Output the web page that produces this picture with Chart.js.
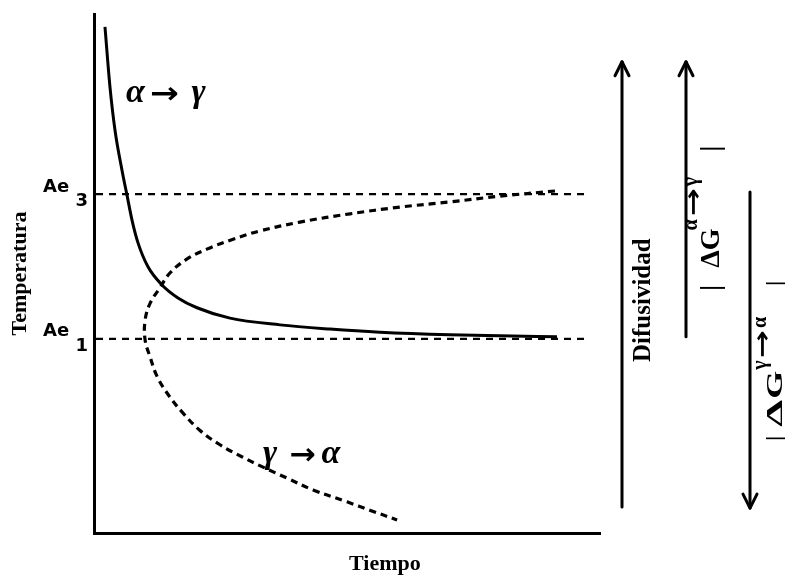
<!DOCTYPE html>
<html><head><meta charset="utf-8">
<script src="https://cdn.jsdelivr.net/npm/chart.js@4/dist/chart.umd.min.js"></script>
<style>html,body{margin:0;padding:0;background:#fff}canvas{display:block}</style>
</head><body>
<canvas id="c" width="785" height="577"></canvas>
<script>
// ---- data (arbitrary units: tiempo 0..100, temperatura 0..100) ----
const solidTiempo = [2.17, 3.16, 4.15, 5.53, 6.52, 7.51, 8.70, 10.67, 13.44, 16.60, 20.36, 26.88, 36.76, 46.64, 56.52, 70.36, 80.24, 91.50];
const solidTemp   = [97.5, 85.9, 77.6, 69.9, 65.1, 60.3, 55.9, 51.3, 47.8, 45.3, 43.4, 41.4, 40.1, 39.3, 38.7, 38.2, 38.0, 37.8];
const dashTiempo  = [91.1, 80.2, 70.4, 60.5, 50.6, 40.7, 32.8, 27.5, 22.3, 18.4, 15.0, 13.0, 11.1, 10.1, 10.1, 11.1, 12.5, 15.0, 17.6, 20.9, 24.9, 29.4, 33.4, 38.1, 43.3, 50.0, 54.5, 59.9];
const dashTemp    = [65.9, 64.9, 63.8, 62.8, 61.5, 59.9, 58.2, 56.6, 54.7, 52.8, 50.1, 47.2, 44.3, 41.0, 37.2, 33.9, 30.1, 26.2, 23.1, 19.8, 17.0, 14.6, 12.7, 10.6, 8.3, 6.0, 4.4, 2.5];
const eqTemps     = [37.4, 65.3];
const eqLabels    = [['Ae   ', '1'], ['Ae   ', '3']];
const eqLineTiempo = [0.4, 97.4];
const curveLabels = [['\u03b1', '\u2192', '\u03b3'], ['\u03b3', '\u2192', '\u03b1']];
const curveLabelTiempo = [6.3, 33.4];
const curveLabelTemp   = [83.0, 13.5];
const xTitle = 'Tiempo';
const yTitle = 'Temperatura';

const toPts = (xs, ys) => xs.map((x, i) => ({x, y: ys[i]}));

const annot = {
  id: 'annot',
  afterDraw(chart) {
    const {ctx, chartArea: a, scales: {x, y}} = chart;
    ctx.save();
    ctx.fillStyle = '#000';
    ctx.strokeStyle = '#000';

    // draw a run of text parts along a baseline (optionally rotated)
    function run(bx, by, angle, parts) {
      ctx.save();
      ctx.translate(bx, by);
      ctx.rotate(angle);
      ctx.textAlign = 'left';
      ctx.textBaseline = 'alphabetic';
      let cx = 0;
      for (const p of parts) {
        ctx.font = p.f;
        const sx = p.sx || 1;
        ctx.save();
        ctx.translate(cx, -(p.r || 0));
        ctx.scale(sx, 1);
        ctx.fillText(p.t, 0, 0);
        ctx.restore();
        cx += ctx.measureText(p.t).width * sx + (p.g || 0);
      }
      ctx.restore();
    }

    // curve labels
    const gk = 'italic bold 34px "Liberation Serif"', ar = 'bold 30px "DejaVu Sans"';
    const cl0 = curveLabels[0], cl1 = curveLabels[1];
    run(x.getPixelForValue(curveLabelTiempo[0]), y.getPixelForValue(curveLabelTemp[0]), 0, [
      {t: cl0[0], f: gk, g: 5}, {t: cl0[1], f: ar, sx: 1.15, r: -1, g: 13}, {t: cl0[2], f: gk}]);
    run(x.getPixelForValue(curveLabelTiempo[1]), y.getPixelForValue(curveLabelTemp[1]), 0, [
      {t: cl1[0], f: gk, g: 12}, {t: cl1[1], f: ar, sx: 1.05, r: -1, g: 6}, {t: cl1[2], f: gk}]);

    // x title
    ctx.font = 'bold 22px "Liberation Serif"';
    ctx.textAlign = 'center';
    ctx.textBaseline = 'middle';
    ctx.fillText(xTitle, a.left + (a.right - a.left) * 0.575, 564);

    // arrows
    function arrow(px, vTop, vBot, headUp) {
      const y1 = y.getPixelForValue(vTop), y2 = y.getPixelForValue(vBot);
      ctx.lineWidth = 3;
      ctx.lineCap = 'round';
      ctx.lineJoin = 'round';
      ctx.beginPath(); ctx.moveTo(px, y1); ctx.lineTo(px, y2); ctx.stroke();
      const tip = headUp ? y1 : y2, d = headUp ? 1 : -1;
      ctx.beginPath();
      ctx.moveTo(px - 7, tip + d * 14); ctx.lineTo(px, tip); ctx.lineTo(px + 7, tip + d * 14);
      ctx.stroke();
    }
    arrow(a.right + 22, 90.8, 5.0, true);
    arrow(a.right + 86, 90.8, 37.8, true);
    arrow(a.right + 150, 65.7, 4.8, false);

    const up = -Math.PI / 2;
    run(650, 362, up, [{t: 'Difusividad', f: 'bold 25px "Liberation Serif"'}]);

    const big = 'bold 28px "Liberation Serif"', sup = 'bold 20px "Liberation Serif"', sar = 'bold 24px "DejaVu Sans"';
    run(719, 291, up, [
      {t: '|', f: big, g: 17}, {t: '\u0394G', f: big, g: -2},
      {t: '\u03b1', f: sup, r: 22, g: 3}, {t: '\u2192', f: sar, sx: 1.4, r: 18, g: 2},
      {t: '\u03b3', f: sup, r: 22, g: 25}, {t: '|', f: big}]);
    const big3 = 'bold 24px "Liberation Serif"';
    run(782, 441, up, [
      {t: '|', f: big3, g: 9}, {t: '\u0394', f: big3, sx: 1.8, g: 1}, {t: 'G', f: big3, sx: 1.5, g: 1},
      {t: '\u03b3', f: sup, r: 16, g: 2}, {t: '\u2192', f: sar, sx: 1.4, r: 12, g: 2},
      {t: '\u03b1', f: sup, r: 16, g: 31}, {t: '|', f: big3}]);
    ctx.restore();
  }
};

new Chart(document.getElementById('c'), {
  type: 'scatter',
  data: {
    datasets: [
      {data: toPts(solidTiempo, solidTemp), showLine: true, borderColor: '#000', borderWidth: 3, cubicInterpolationMode: 'monotone', pointRadius: 0},
      {data: toPts(dashTiempo, dashTemp), showLine: true, borderColor: '#000', borderWidth: 3.2, borderDash: [7, 5], tension: 0.4, pointRadius: 0},
      {data: toPts(eqLineTiempo, [eqTemps[1], eqTemps[1]]), showLine: true, borderColor: '#000', borderWidth: 2.2, borderDash: [7, 6], pointRadius: 0},
      {data: toPts(eqLineTiempo, [eqTemps[0], eqTemps[0]]), showLine: true, borderColor: '#000', borderWidth: 2.2, borderDash: [7, 6], pointRadius: 0}
    ]
  },
  options: {
    responsive: false,
    animation: false,
    events: [],
    layout: {padding: {top: 14, right: 185, left: 0, bottom: 0}},
    plugins: {legend: {display: false}, tooltip: {enabled: false}},
    scales: {
      x: {
        type: 'linear', min: 0, max: 100,
        grid: {display: false, drawTicks: false},
        border: {display: true, color: '#000', width: 3},
        ticks: {display: false},
        afterFit: s => { s.height = 44; s.paddingLeft = 0; s.paddingRight = 0; }
      },
      y: {
        type: 'linear', min: 0, max: 100,
        grid: {display: false, drawTicks: false},
        border: {display: true, color: '#000', width: 3},
        afterBuildTicks: s => { s.ticks = eqTemps.map(v => ({value: v})); },
        ticks: {
          padding: 6, color: '#000',
          font: {family: '"DejaVu Sans"', weight: 'bold', size: 18, lineHeight: 0.8},
          callback: v => eqLabels[eqTemps.indexOf(v)]
        },
        title: {display: true, text: yTitle, color: '#000', padding: {top: 7, bottom: 0},
          font: {family: '"Liberation Serif"', weight: 'bold', size: 22}},
        afterFit: s => { s.width = 94; s.paddingTop = 0; s.paddingBottom = 0; }
      }
    }
  },
  plugins: [annot]
});
</script>
</body></html>
